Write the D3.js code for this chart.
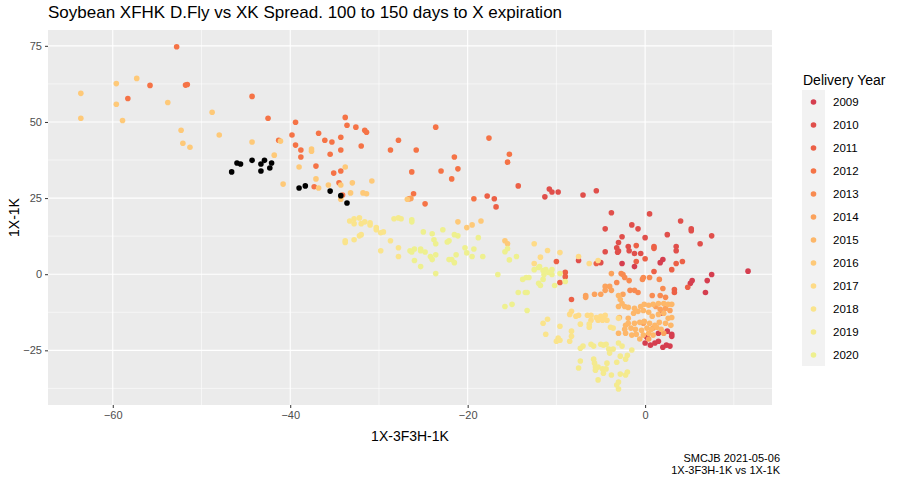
<!DOCTYPE html>
<html>
<head>
<meta charset="utf-8">
<script src="https://cdn.jsdelivr.net/npm/d3@7"></script>
<style>
  body { margin: 0; background: #fff; font-family: "Liberation Sans", Arial, sans-serif; }
</style>
</head>
<body>
<div id="chart"></div>
<script>
// points per delivery year, [x = 1X-3F3H-1K, y = 1X-1K]
var pts2009 = [[0.0,-22.6],[0.6,-23.3],[1.1,-22.6],[1.5,-22.0],[2.0,-24.0],[2.4,-23.3],[2.8,-23.6],[3.0,-19.7],
  [3.0,-20.4],[2.5,-18.7],[2.0,-12.8],[1.5,-19.4],[0.2,-20.7],[7.5,-0.1],[5.3,-2.1],[5.1,-3.0],[7.0,-2.1],
  [6.8,-6.0],[11.6,1.0],[-2.6,3.5],[-1.2,2.5],[2.0,4.8],[1.7,3.8]];
var pts2010 = [[-10.8,28.0],[-10.5,27.0],[-9.8,27.0],[-11.3,25.4],[-7.0,26.0],[-5.5,27.4],[-3.8,20.2],[0.5,19.8],
  [4.0,17.5],[5.2,14.9],[5.2,14.3],[7.5,12.6],[6.2,10.0],[-1.5,16.2],[-0.8,14.9],[-4.5,14.9],[-2.6,12.3],
  [0.0,12.0],[2.5,13.0],[-3.0,10.4],[-3.2,8.7],[-3.0,7.6],[-3.1,7.2],[-1.9,9.1],[-1.8,7.7],[-1.2,6.8],
  [-0.5,6.8],[3.5,9.1],[3.5,7.7],[-4.5,7.4],[-7.5,4.5],[-5.0,3.8]];
var pts2011 = [[1.0,9.1],[1.0,8.5],[-1.0,9.4],[0.0,5.1],[-1.0,4.2],[4.2,4.2],[3.5,3.5],[1.0,0.9],[3.0,1.5],
  [4.8,-4.3],[3.3,-5.0],[3.3,-6.0],[-5.5,3.5],[-10.0,4.2],[-9.0,0.6],[-9.0,-0.8],[-9.6,-2.7],[-8.3,-8.3],
  [-14.3,29.0],[-17.0,24.8],[-16.8,22.1],[-17.8,25.7]];
var pts2012 = [[-58.3,57.7],[-55.8,62.0],[-52.8,74.7],[-51.8,62.1],[-51.6,62.3],[-44.3,58.4],[-42.5,51.2],
  [-41.3,44.0],[-39.8,45.7],[-39.4,49.9],[-39.4,42.4],[-38.8,40.8],[-38.8,38.5],[-36.8,46.3],[-36.1,44.0],
  [-35.3,43.4],[-34.3,45.0],[-33.8,51.5],[-33.6,48.9],[-32.6,48.3],[-31.6,47.3],[-31.4,46.6],[-32.0,42.1],
  [-34.3,40.8],[-35.5,39.4],[-37.1,35.5],[-35.1,33.2],[-34.3,33.9],[-37.3,28.7],[-34.5,30.0],[-34.1,26.0],
  [-28.7,40.8],[-27.8,44.0],[-25.8,40.8],[-23.6,48.3],[-26.3,33.6],[-26.1,26.4],[-26.6,24.8],[-24.8,23.1],
  [-23.0,33.9],[-21.5,38.5],[-21.1,34.6],[-21.8,31.3],[-17.6,44.7],[-19.3,24.8],[-15.3,39.4],[-15.5,36.8]];
var pts2013 = [[-0.2,-1.1],[0.5,-1.1],[-0.3,-1.7],[0.8,-7.0],[1.7,-7.0],[2.3,-7.6],[1.6,-1.7],[2.0,-4.7],
  [-1.2,-5.3],[-0.8,-6.0],[-1.8,-2.1],[-2.3,-1.1],[-2.7,0.2],[-2.5,-0.1],[-1.7,-5.3],[-3.2,-2.7]];
var pts2014 = [[-3.8,0.2],[-4.0,-4.0],[-3.8,-5.3],[-4.5,-4.0],[-4.5,-5.3],[-5.0,-6.6],[-5.7,-6.6],[-6.7,-7.0],
  [-6.7,-7.6],[-2.5,-6.6],[1.2,-10.6],[1.7,-11.5],[2.3,-11.2],[2.8,-11.9],[-0.2,-16.1],[0.9,-17.7],
  [2.1,-19.4],[0.4,-21.3],[-26.4,24.9]];
var pts2015 = [[-3.0,-7.0],[-2.8,-8.3],[-2.6,-9.6],[-3.0,-10.6],[-2.3,-10.6],[-1.9,-10.9],[-1.2,-11.2],
  [-0.5,-10.6],[-0.1,-9.9],[0.4,-10.2],[0.9,-9.9],[1.5,-9.6],[2.1,-9.6],[2.6,-9.9],[3.0,-9.9],[-1.9,-14.5],
  [-1.3,-12.8],[-0.8,-12.2],[-0.2,-11.9],[0.4,-12.5],[0.8,-13.8],[1.5,-13.2],[2.1,-12.8],[2.6,-14.5],
  [3.0,-14.2],[-1.9,-16.1],[-1.2,-16.1],[-0.6,-15.8],[-0.1,-15.5],[0.5,-16.1],[1.1,-16.8],[1.6,-15.8],
  [2.3,-16.1],[2.9,-16.8],[-1.6,-17.7],[-1.1,-18.1],[-0.4,-18.4],[0.2,-17.7],[0.7,-18.1],[1.3,-17.4],
  [1.8,-18.1],[-2.2,-19.4],[-1.5,-20.0],[-1.0,-19.7],[-0.2,-20.0],[0.4,-19.4],[0.9,-20.0],[-0.6,-21.3],
  [-3.0,-19.4],[-2.3,-18.1],[-2.9,-14.2],[-2.2,-16.8]];
var pts2016 = [[-63.6,59.4],[-63.6,51.2],[-59.6,62.6],[-59.6,55.8],[-58.9,50.5],[-57.3,64.3],[-53.8,56.4],
  [-52.3,47.3],[-52.1,43.0],[-51.3,41.7],[-48.8,53.2],[-48.0,45.7],[-44.3,43.4],[-41.1,43.7],[-41.8,39.1],
  [-40.8,29.6],[-39.0,35.2],[-37.6,41.1],[-37.6,40.4],[-33.8,35.2],[-37.1,31.3],[-36.8,28.3],[-35.7,29.3],
  [-34.3,29.3],[-34.3,24.6],[-33.0,30.0],[-33.2,26.7],[-30.8,30.6],[-31.8,26.7],[-31.4,26.4],[-26.8,24.6],
  [-21.1,17.2],[-20.1,15.3],[-19.5,16.2],[-18.5,17.5],[-15.8,11.0],[-15.5,10.0]];
var pts2017 = [[-11.0,7.8],[-9.6,7.1],[-11.8,5.6],[-12.5,10.0],[-12.5,3.5],[-7.5,5.8],[-6.3,3.5],[-5.3,4.5],
  [-8.3,-12.2],[-8.5,-13.2],[-7.8,-13.8],[-7.5,-13.5],[-6.5,-13.5],[-6.1,-13.5],[-5.5,-14.2],[-5.0,-13.8],
  [-4.5,-13.5],[-4.8,-15.1],[-4.3,-15.1],[-3.0,-14.5],[-5.3,-15.1],[-4.7,-14.8],[-6.1,-15.1]];
var pts2018 = [[-33.3,17.5],[-32.8,18.2],[-32.2,18.5],[-32.8,16.6],[-32.0,16.6],[-31.6,17.2],[-31.0,16.9],
  [-31.0,16.2],[-30.3,15.3],[-30.3,14.6],[-29.8,13.6],[-29.5,13.9],[-33.8,11.0],[-33.8,10.4],[-32.8,11.3],
  [-32.2,12.6],[-32.0,13.0],[-28.7,11.0],[-29.8,7.7],[-27.8,8.7],[-27.8,5.8],[-3.9,-17.4],[-3.6,-17.7],
  [-11.5,-16.1],[-11.0,-14.8],[-9.6,-17.1],[-11.2,-19.7],[-8.3,-18.7],[-8.3,-20.4],[-9.8,-21.0],
  [-10.0,-22.0],[-9.6,-21.7],[-8.5,-22.0],[-6.3,-16.4],[-6.3,-17.4],[-7.3,-16.4]];
var pts2019 = [[-7.3,-24.3],[-7.0,-23.6],[-6.1,-23.0],[-5.8,-23.6],[-5.0,-23.0],[-4.7,-23.3],[-4.4,-23.0],
  [-4.1,-24.6],[-4.0,-25.9],[-3.6,-24.6],[-3.0,-22.6],[-2.6,-23.6],[-2.8,-26.9],[-2.2,-27.9],[-1.5,-24.9],
  [-2.0,-26.6],[-7.3,-28.5],[-7.5,-30.8],[-5.8,-27.9],[-5.7,-29.2],[-5.6,-30.5],[-5.3,-30.5],[-5.6,-31.5],
  [-4.8,-31.1],[-4.7,-32.5],[-4.4,-31.1],[-4.3,-29.2],[-3.8,-33.1],[-3.2,-28.9],[-2.8,-32.8],[-2.2,-33.1],
  [-2.0,-32.1],[-5.3,-34.7],[-3.2,-36.4],[-3.0,-35.4],[-3.0,-37.7],[-28.3,18.2],[-27.8,18.5],[-27.5,18.2]];
var pts2020 = [[-26.3,17.9],[-26.3,17.2],[-25.0,13.9],[-24.0,13.3],[-23.8,11.3],[-23.6,10.0],[-22.8,14.6],
  [-22.3,10.6],[-22.1,11.0],[-21.5,13.0],[-21.1,12.6],[-26.5,7.7],[-26.3,7.3],[-26.0,8.3],[-25.3,8.3],
  [-25.3,7.7],[-24.8,7.3],[-26.0,4.5],[-25.3,2.5],[-24.2,5.8],[-24.0,4.8],[-23.6,6.4],[-23.6,0.2],
  [-22.1,4.8],[-21.8,4.8],[-21.5,3.8],[-21.3,6.4],[-20.3,8.7],[-20.1,7.0],[-19.5,5.8],[-19.3,8.3],
  [-18.8,12.0],[-18.3,5.8],[-16.6,-0.1],[-15.8,7.4],[-15.5,8.4],[-15.3,4.7],[-14.5,5.8],[-12.5,1.5],
  [-12.0,2.2],[-11.9,2.5],[-11.5,1.2],[-11.2,1.5],[-10.9,0.6],[-10.5,1.5],[-10.5,-0.1],[-11.4,-0.1],
  [-11.5,-1.7],[-13.8,-1.7],[-13.4,-1.1],[-13.1,-1.1],[-9.6,0.2],[-9.0,-2.4],[-12.0,-3.0],[-11.8,-3.7],
  [-10.2,-3.7],[-14.3,-6.0],[-13.5,-6.0],[-13.3,-6.0],[-15.8,-10.6],[-15.0,-9.9],[-13.3,-11.9]];
// current contract, drawn in black, not in legend
var pts2021 = [[-46.6,33.6],[-46.0,36.5],[-45.6,36.2],[-44.3,37.4],[-43.3,36.2],[-43.3,33.9],[-42.9,37.4],
  [-42.3,34.9],[-42.1,36.5],[-39.0,28.3],[-38.3,29.0],[-35.5,27.3],[-34.3,25.8],[-33.6,23.4]];

var years = ["2009","2010","2011","2012","2013","2014","2015","2016","2017","2018","2019","2020"];
var series = [pts2009,pts2010,pts2011,pts2012,pts2013,pts2014,pts2015,pts2016,pts2017,pts2018,pts2019,pts2020];
var xTicks = [-60, -40, -20, 0];
var yTicks = [-25, 0, 25, 50, 75];

var svgWidth = 900, svgHeight = 482;
var margin = {top: 30, right: 128, bottom: 77, left: 48};
var width = svgWidth - margin.left - margin.right;
var height = svgHeight - margin.top - margin.bottom;

var ramp = d3.piecewise(d3.interpolateRgb, ["#d53e4f", "#f46d43", "#fdae61", "#fee08b", "#eef08f"]);
var color = d3.scaleOrdinal().domain(years).range(years.map((d, i) => ramp(i / 11)));

var svg = d3.select("#chart").append("svg")
    .attr("width", svgWidth)
    .attr("height", svgHeight);

var x = d3.scaleLinear().domain([-67.3, 14.3]).range([0, width]);
var y = d3.scaleLinear().domain([-42.95, 80.2]).range([height, 0]);

var g = svg.append("g").attr("transform", `translate(${margin.left}, ${margin.top})`);

g.append("rect").attr("width", width).attr("height", height).attr("fill", "#ebebeb");

// minor grid
var xMinor = [-70, -50, -30, -10, 10].filter(v => v > -67.3 && v < 14.3);
var yMinor = [-37.5, -12.5, 12.5, 37.5, 62.5];
g.selectAll(".xmin").data(xMinor).enter().append("line")
    .attr("x1", d => x(d)).attr("x2", d => x(d)).attr("y1", 0).attr("y2", height)
    .attr("stroke", "#fff").attr("stroke-width", 0.55);
g.selectAll(".ymin").data(yMinor).enter().append("line")
    .attr("x1", 0).attr("x2", width).attr("y1", d => y(d)).attr("y2", d => y(d))
    .attr("stroke", "#fff").attr("stroke-width", 0.55);
// major grid
g.selectAll(".xmaj").data(xTicks).enter().append("line")
    .attr("x1", d => x(d)).attr("x2", d => x(d)).attr("y1", 0).attr("y2", height)
    .attr("stroke", "#fff").attr("stroke-width", 1.1);
g.selectAll(".ymaj").data(yTicks).enter().append("line")
    .attr("x1", 0).attr("x2", width).attr("y1", d => y(d)).attr("y2", d => y(d))
    .attr("stroke", "#fff").attr("stroke-width", 1.1);

// axes
var xAxis = g.append("g").attr("transform", `translate(0, ${height})`)
    .call(d3.axisBottom(x).tickValues(xTicks).tickSize(3).tickPadding(3));
var yAxis = g.append("g")
    .call(d3.axisLeft(y).tickValues(yTicks).tickSize(3).tickPadding(3));
[xAxis, yAxis].forEach(function(a) {
    a.select(".domain").remove();
    a.selectAll("line").attr("stroke", "#333");
    a.selectAll("text").attr("fill", "#4d4d4d").style("font-size", "11px")
        .style("font-family", "Liberation Sans, Arial, sans-serif");
});

// points
series.forEach(function(pts, i) {
    g.append("g").selectAll("circle").data(pts).enter().append("circle")
        .attr("cx", d => x(d[0])).attr("cy", d => y(d[1])).attr("r", 2.8)
        .attr("fill", color(years[i]));
});
g.append("g").selectAll("circle").data(pts2021).enter().append("circle")
    .attr("cx", d => x(d[0])).attr("cy", d => y(d[1])).attr("r", 2.8)
    .attr("fill", "black");

// titles
svg.append("text").attr("x", 48).attr("y", 18).text("Soybean XFHK D.Fly vs XK Spread. 100 to 150 days to X expiration")
    .style("font-size", "17px").attr("fill", "#000");
svg.append("text").attr("x", margin.left + width / 2).attr("y", 441).attr("text-anchor", "middle")
    .text("1X-3F3H-1K").style("font-size", "14px");
svg.append("text").attr("transform", `translate(19, ${margin.top + height / 2}) rotate(-90)`)
    .attr("text-anchor", "middle").text("1X-1K").style("font-size", "14px");
svg.append("text").attr("x", 780).attr("y", 462).attr("text-anchor", "end")
    .text("SMCJB 2021-05-06").style("font-size", "11px");
svg.append("text").attr("x", 780).attr("y", 474).attr("text-anchor", "end")
    .text("1X-3F3H-1K vs 1X-1K").style("font-size", "11px");

// legend
var lg = svg.append("g").attr("transform", "translate(802, 90)");
lg.append("text").attr("x", 1).attr("y", -5).text("Delivery Year").style("font-size", "14px");
lg.append("rect").attr("x", 0).attr("y", 0).attr("width", 23).attr("height", 276).attr("fill", "#f2f2f2");
var items = lg.selectAll(".item").data(years).enter().append("g")
    .attr("transform", (d, i) => `translate(0, ${12 + i * 23})`);
items.append("circle").attr("cx", 11.5).attr("cy", 0).attr("r", 2.8).attr("fill", d => color(d));
items.append("text").attr("x", 31).attr("y", 4).text(d => d).style("font-size", "11.5px");
</script>
</body>
</html>
